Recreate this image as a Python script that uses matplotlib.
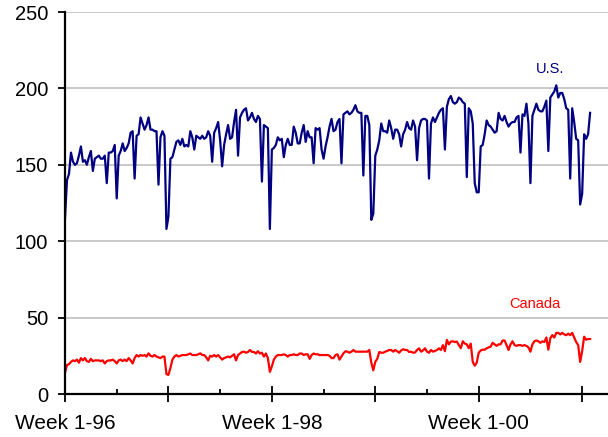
import numpy as np
import matplotlib
matplotlib.use("Agg")
import matplotlib.pyplot as plt
from matplotlib.ticker import FixedLocator

plt.rcParams["font.family"] = ["Liberation Sans", "DejaVu Sans"]

# weekly values, week 1-96 onwards
us = [115, 140, 144, 158, 152, 150, 151, 156, 162, 152, 153, 150, 155, 159, 146, 154,
      155, 156, 154, 154, 156, 138, 158, 158, 159, 163, 128, 156, 159, 164, 159, 161,
      164, 171, 172, 141, 169, 170, 181, 177, 173, 176, 181, 173, 173, 172, 172, 137,
      168, 172, 169, 108, 116, 154, 155, 160, 165, 166, 163, 167, 162, 163, 162, 172,
      168, 160, 169, 168, 167, 169, 167, 168, 172, 169, 152, 171, 174, 178, 166, 149,
      163, 170, 176, 167, 168, 178, 186, 156, 181, 184, 186, 187, 179, 181, 184, 180,
      178, 182, 180, 139, 176, 175, 174, 108, 160, 161, 163, 168, 166, 167, 155, 163,
      167, 163, 163, 175, 171, 164, 164, 171, 176, 165, 172, 168, 168, 151, 174, 173,
      174, 160, 154, 162, 168, 175, 180, 172, 173, 178, 180, 151, 183, 184, 185, 183,
      184, 186, 189, 185, 184, 184, 143, 182, 182, 176, 114, 118, 156, 160, 166, 177,
      172, 172, 171, 179, 174, 167, 173, 173, 170, 162, 170, 173, 178, 174, 173, 179,
      175, 153, 174, 179, 180, 180, 179, 141, 177, 181, 178, 181, 184, 186, 187, 160,
      188, 193, 195, 191, 190, 191, 194, 193, 191, 190, 142, 187, 185, 177, 138, 132,
      132, 162, 163, 170, 179, 176, 175, 173, 171, 172, 184, 180, 179, 182, 178, 175,
      177, 178, 178, 181, 182, 158, 183, 182, 190, 177, 138, 182, 186, 190, 186, 185,
      185, 188, 192, 159, 194, 196, 198, 202, 194, 197, 197, 193, 187, 186, 141, 187,
      178, 167, 166, 124, 131, 170, 167, 170, 184]

canada = [14, 19, 19.5, 21, 22, 21.5, 22.5, 20.5, 23.5, 22, 23.5, 21.5, 21, 23, 21.5, 22,
          22, 22, 21.5, 22, 20, 21.5, 22, 22, 22.5, 21.5, 20, 22, 22.5, 21.5, 22.5, 21.5,
          23.5, 22, 20, 23.5, 25.5, 24.5, 25.5, 25, 25.5, 24.5, 26.6, 25, 24.5, 25.5, 24.5, 24,
          23.5, 24.5, 24.5, 13, 12.5, 17, 22.5, 24.5, 25.5, 24.5, 25, 25.5, 25.5, 25.5, 26, 26.5,
          25.5, 25.5, 25.5, 26, 26.6, 25.5, 25.5, 24, 22, 25, 24.5, 25.5, 24.5, 25.5, 24, 22.5,
          23.5, 24, 24.5, 24, 25, 26, 22, 25.5, 26.5, 27.5, 27.7, 27, 27.5, 28.8, 27.5, 27.5,
          26.5, 28, 26.5, 27, 24.5, 26.5, 23.5, 14.5, 18, 22.5, 24.5, 25.5, 25.5, 25.5, 26, 25.5,
          24.5, 25.5, 25.5, 26, 25.5, 25.5, 26.5, 26.5, 25.5, 26, 26, 23, 25.5, 26.5, 26, 26,
          25.5, 25.5, 25.5, 25.5, 25.5, 25, 23.5, 23.5, 25.5, 26, 22.5, 24.5, 26.6, 28, 27.7, 27,
          27.7, 28.8, 27.7, 27.7, 27.7, 27.7, 27.7, 27.7, 27.7, 28.8, 20.5, 15.5, 21, 23, 27.5, 27,
          27, 27.7, 28.2, 28.8, 28.8, 27.7, 28.8, 28, 27, 28.5, 29.3, 28.8, 28.8, 27.5, 27.7, 27,
          27.2, 28.8, 29.9, 27.7, 28.5, 29.9, 27.7, 27, 28.8, 27.7, 28.2, 28.8, 29.9, 28.8, 32, 28,
          35.4, 32.5, 34.3, 34.5, 34, 34.3, 32, 30, 34.5, 33, 32.5, 30, 33, 21, 18.5, 20.5,
          27, 28.5, 29, 29, 29.9, 30.5, 31, 33.5, 32.5, 31.5, 32.5, 32.5, 35, 35, 32, 28.8,
          32.5, 34.5, 32, 31.5, 32, 32, 31.5, 32, 31.5, 30.5, 27.7, 32.5, 34.5, 35, 34.5, 33.5,
          34.5, 34, 37, 29, 36.5, 38.5, 37, 40, 40, 39, 40, 39, 38.5, 39.5, 38.5, 40,
          37, 34, 32, 21, 28, 37.5, 35.5, 36, 36]

tick_labels = ["Week 1-96", "", "Week 1-98", "", "Week 1-00", ""]

weeks = np.arange(len(us))

fig = plt.figure(figsize=(6.08, 4.37), dpi=100)
ax = fig.add_axes([65 / 608, 43 / 437, 543 / 608, 382 / 437])

ax.plot(weeks, us, color="#000080", linewidth=1.6)
ax.plot(np.arange(len(canada)), canada, color="#ff0000", linewidth=1.6)

ax.set_xlim(0, 273)
ax.set_ylim(0, 250)

# grid
ax.set_yticks([0, 50, 100, 150, 200, 250])
ax.yaxis.grid(True, color="#c0c0c0", linewidth=1.2)
ax.set_axisbelow(True)

ax.xaxis.set_major_locator(FixedLocator(np.arange(0, 261, 52)))
ax.xaxis.set_minor_locator(FixedLocator(np.arange(26, 273, 52)))
ax.set_xticklabels(tick_labels)

ax.tick_params(axis="x", which="major", direction="inout", length=11, width=1.3,
               labelsize=15, pad=9, colors="black")
ax.tick_params(axis="x", which="minor", direction="in", length=3.5, width=1.3)
ax.tick_params(axis="y", direction="out", length=5, width=1.3, labelsize=14.5, pad=7)

for side in ["top", "right"]:
    ax.spines[side].set_visible(False)
for side in ["left", "bottom"]:
    ax.spines[side].set_linewidth(1.6)

ax.text(243.7, 212.7, "U.S.", color="#000080", fontsize=10.5, ha="center", va="center")
ax.text(236, 59.2, "Canada", color="#ff0000", fontsize=10.5, ha="center", va="center")

fig.savefig("out.png", dpi=100)
